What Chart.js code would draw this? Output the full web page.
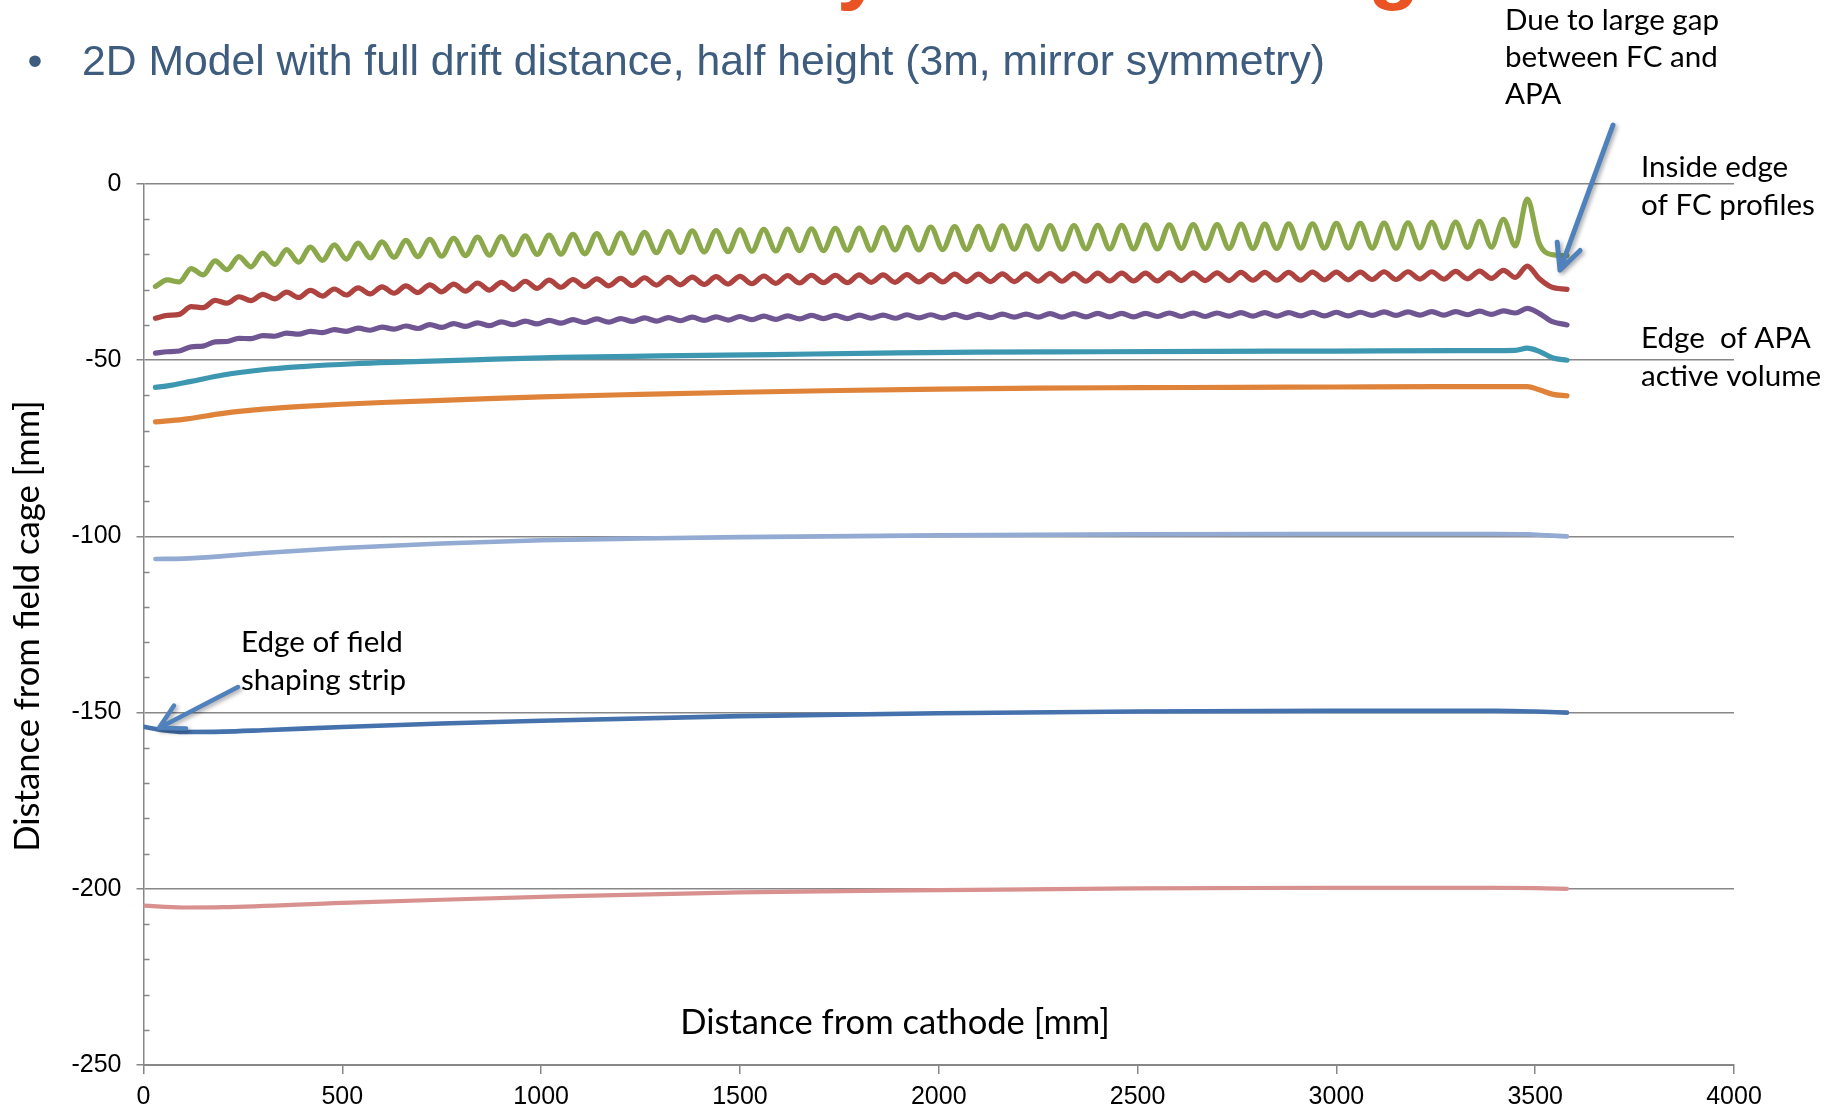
<!DOCTYPE html>
<html>
<head>
<meta charset="utf-8">
<script src="https://cdn.jsdelivr.net/npm/chart.js@4.4.1/dist/chart.umd.min.js"></script>
<style>
  html, body { margin: 0; padding: 0; background: #ffffff; overflow: hidden; }
  #wrap { position: relative; width: 1829px; height: 1109px; }
</style>
</head>
<body>
<div id="wrap"><canvas id="c" width="1829" height="1109"></canvas></div>
<script>
// Sample positions along the drift direction [mm] for the rippled field lines
const waveX = [30,60,90,120,150,180,210,240,270,300,330,360,390,420,450,480,510,540,570,600,
  630,660,690,720,750,780,810,840,870,900,930,960,990,1020,1050,1080,1110,1140,1170,1200,
  1230,1260,1290,1320,1350,1380,1410,1440,1470,1500,1530,1560,1590,1620,1650,1680,1710,1740,1770,1800,
  1830,1860,1890,1920,1950,1980,2010,2040,2070,2100,2130,2160,2190,2220,2250,2280,2310,2340,2370,2400,
  2430,2460,2490,2520,2550,2580,2610,2640,2670,2700,2730,2760,2790,2820,2850,2880,2910,2940,2970,3000,
  3030,3060,3090,3120,3150,3180,3210,3240,3270,3300,3330,3360,3390,3420,3450,3480,3510,3540,3580];

// Field line closest to the field cage profiles (green)
const greenY = [-29.1,-27.2,-27.8,-24.0,-25.8,-21.8,-24.3,-20.6,-23.5,-19.6,-22.8,-18.6,-22.2,-17.9,-21.7,-17.3,-21.3,-16.8,-21.0,-16.4,
  -20.8,-16.0,-20.6,-15.7,-20.5,-15.4,-20.3,-15.1,-20.2,-14.9,-20.1,-14.7,-20.0,-14.5,-19.9,-14.3,-19.8,-14.1,-19.7,-13.9,
  -19.6,-13.7,-19.5,-13.5,-19.4,-13.3,-19.3,-13.2,-19.2,-13.0,-19.1,-12.9,-19.0,-12.8,-18.9,-12.7,-18.9,-12.6,-18.8,-12.5,
  -18.8,-12.4,-18.7,-12.3,-18.7,-12.2,-18.6,-12.1,-18.6,-12.0,-18.6,-11.9,-18.5,-11.9,-18.5,-11.8,-18.5,-11.8,-18.4,-11.7,
  -18.4,-11.7,-18.4,-11.6,-18.4,-11.6,-18.3,-11.5,-18.3,-11.5,-18.3,-11.4,-18.3,-11.4,-18.3,-11.3,-18.2,-11.3,-18.2,-11.2,
  -18.2,-11.2,-18.2,-11.1,-18.2,-11.0,-18.1,-10.9,-18.1,-10.8,-18.0,-10.6,-17.9,-10.0,-17.6,-4.3,-16.8,-20.0,-20.3];

// Second field line (red)
const redY = [-38.1,-37.3,-37.0,-34.8,-35.1,-33.0,-33.8,-32.0,-33.1,-31.3,-32.6,-30.7,-32.2,-30.2,-31.8,-29.8,-31.5,-29.5,-31.2,-29.2,
  -31.0,-28.9,-30.8,-28.6,-30.6,-28.4,-30.4,-28.1,-30.1,-27.9,-29.9,-27.6,-29.6,-27.3,-29.3,-27.1,-29.1,-26.9,-28.9,-26.8,
  -28.8,-26.6,-28.7,-26.5,-28.6,-26.4,-28.5,-26.3,-28.4,-26.2,-28.3,-26.1,-28.2,-26.0,-28.1,-25.9,-28.0,-25.9,-28.0,-25.8,
  -27.9,-25.8,-27.9,-25.7,-27.8,-25.7,-27.8,-25.6,-27.7,-25.6,-27.7,-25.5,-27.7,-25.5,-27.6,-25.4,-27.6,-25.4,-27.6,-25.3,
  -27.5,-25.3,-27.5,-25.3,-27.5,-25.2,-27.4,-25.2,-27.4,-25.2,-27.4,-25.1,-27.3,-25.1,-27.3,-25.1,-27.3,-25.0,-27.2,-25.0,
  -27.2,-25.0,-27.1,-24.9,-27.1,-24.9,-27.0,-24.9,-27.0,-24.8,-26.9,-24.7,-26.8,-24.5,-26.5,-23.3,-26.8,-29.2,-29.9];

// Third field line (purple)
const purpleY = [-48.0,-47.6,-47.4,-46.2,-46.0,-44.8,-44.7,-43.8,-43.9,-43.0,-43.2,-42.3,-42.6,-41.8,-42.2,-41.3,-41.8,-40.9,-41.5,-40.6,
  -41.2,-40.3,-41.0,-39.9,-40.7,-39.6,-40.4,-39.4,-40.2,-39.1,-39.9,-38.9,-39.7,-38.7,-39.5,-38.5,-39.3,-38.3,-39.2,-38.2,
  -39.0,-38.0,-38.9,-37.9,-38.8,-37.8,-38.7,-37.7,-38.6,-37.6,-38.5,-37.5,-38.4,-37.4,-38.3,-37.3,-38.2,-37.3,-38.2,-37.2,
  -38.1,-37.2,-38.1,-37.1,-38.0,-37.1,-38.0,-37.0,-37.9,-37.0,-37.9,-36.9,-37.8,-36.9,-37.8,-36.8,-37.8,-36.8,-37.7,-36.7,
  -37.7,-36.7,-37.7,-36.7,-37.6,-36.6,-37.6,-36.6,-37.6,-36.6,-37.5,-36.5,-37.5,-36.5,-37.5,-36.5,-37.4,-36.4,-37.4,-36.4,
  -37.4,-36.4,-37.3,-36.3,-37.3,-36.3,-37.2,-36.2,-37.2,-36.2,-37.1,-36.1,-37.0,-36.0,-36.6,-35.3,-36.7,-38.9,-40.0];

// Smoother field lines further from the cage
const tealX = [30,60,120,200,300,400,530,660,830,1050,1300,1580,1850,2100,2400,2700,3000,3300,3450,3480,3510,3545,3580];
const tealY = [-57.7,-57.3,-56.0,-54.2,-52.7,-51.8,-51.0,-50.5,-49.9,-49.2,-48.8,-48.4,-48.0,-47.7,-47.6,-47.5,-47.4,-47.3,-47.2,-46.6,-47.5,-49.4,-50.0];

const orangeX = [30,100,200,300,400,500,600,800,1000,1250,1500,1750,2000,2250,2500,2750,3000,3250,3450,3480,3510,3545,3580];
const orangeY = [-67.5,-66.8,-65.1,-63.9,-63.1,-62.5,-62.0,-61.2,-60.4,-59.7,-59.1,-58.6,-58.2,-57.9,-57.8,-57.7,-57.6,-57.5,-57.5,-57.5,-58.4,-59.7,-60.1];

const lightBlueX = [30,100,200,300,500,750,1000,1250,1500,2000,2500,3000,3400,3480,3530,3580];
const lightBlueY = [-106.4,-106.3,-105.6,-104.7,-103.3,-102.0,-101.1,-100.6,-100.2,-99.7,-99.4,-99.3,-99.3,-99.4,-99.7,-100.0];

const blueX = [0,50,100,200,300,500,750,1000,1500,2000,2500,3000,3400,3500,3580];
const blueY = [-154.0,-155.0,-155.5,-155.4,-155.0,-154.1,-153.1,-152.3,-151.0,-150.2,-149.7,-149.5,-149.5,-149.7,-150.0];

const pinkX = [0,100,200,500,750,1000,1500,2000,2500,3000,3400,3500,3580];
const pinkY = [-204.8,-205.3,-205.2,-204.0,-203.1,-202.3,-201.0,-200.4,-199.9,-199.7,-199.7,-199.8,-200.0];

// Axis ranges and tick steps
const xRange = [0, 4000];
const xStep = 500;
const yRange = [-250, 0];
const yStep = 50;
const yMinorStep = 10;

const toPoints = (xs, ys) => xs.map((x, i) => ({ x: x, y: ys[i] }));

function line(label, xs, ys, color, width) {
  return {
    label: label,
    data: toPoints(xs, ys),
    borderColor: color,
    borderWidth: width,
    pointRadius: 0,
    pointHoverRadius: 0,
    fill: false,
    cubicInterpolationMode: 'monotone',
    borderCapStyle: 'round',
    borderJoinStyle: 'round'
  };
}

const datasets = [
  line('green', waveX, greenY, '#8BA94A', 5.2),
  line('red', waveX, redY, '#AE4340', 5.2),
  line('purple', waveX, purpleY, '#6F5592', 5.2),
  line('teal', tealX, tealY, '#3D97B1', 5.2),
  line('orange', orangeX, orangeY, '#E0833A', 5.2),
  line('light blue', lightBlueX, lightBlueY, '#93AAD3', 4.6),
  line('blue', blueX, blueY, '#4571AD', 4.6),
  line('pink', pinkX, pinkY, '#D8918F', 4.2)
];

const SANS = '"Liberation Sans", Arial, sans-serif';
const HUMANIST = 'Lato, "Open Sans", sans-serif';

function fitSize(ctx, text, family, weight, target) {
  ctx.font = weight + ' 100px ' + family;
  return 100 * target / ctx.measureText(text).width;
}

function arrow(ctx, x1, y1, x2, y2, width, head, spread) {
  const ang = Math.atan2(y1 - y2, x1 - x2);
  ctx.save();
  ctx.strokeStyle = '#4F81BD';
  ctx.lineWidth = width;
  ctx.lineCap = 'round';
  ctx.lineJoin = 'round';
  ctx.shadowColor = 'rgba(0,0,0,0.35)';
  ctx.shadowBlur = 4;
  ctx.shadowOffsetX = 2;
  ctx.shadowOffsetY = 2;
  ctx.beginPath();
  ctx.moveTo(x1, y1);
  ctx.lineTo(x2, y2);
  ctx.moveTo(x2 + head * Math.cos(ang + spread), y2 + head * Math.sin(ang + spread));
  ctx.lineTo(x2, y2);
  ctx.lineTo(x2 + head * Math.cos(ang - spread), y2 + head * Math.sin(ang - spread));
  ctx.stroke();
  ctx.restore();
}

const decorations = {
  id: 'decorations',
  afterDraw(chart) {
    const ctx = chart.ctx;
    const area = chart.chartArea;
    const yScale = chart.scales.y;

    // minor ticks on the inside of the value axis
    ctx.save();
    ctx.strokeStyle = '#878787';
    ctx.lineWidth = 1.5;
    for (let v = yRange[0] + yMinorStep; v < yRange[1]; v += yMinorStep) {
      if (v % yStep === 0) continue;
      const py = Math.round(yScale.getPixelForValue(v)) + 0.5;
      ctx.beginPath();
      ctx.moveTo(area.left, py);
      ctx.lineTo(area.left + 6, py);
      ctx.stroke();
    }
    ctx.restore();

    ctx.save();
    // slide heading running off the top edge
    const head = 'Field Uniformity near the Edge';
    ctx.font = 'bold 100px ' + SANS;
    const w1 = ctx.measureText('Field Uniformit').width;
    const w2 = ctx.measureText('Field Uniformity near the Ed').width;
    const hs = 542 * 100 / (w2 - w1 + 13);
    const hx = 850 - (w1 / 100 + 0.16) * hs;
    ctx.font = 'bold ' + hs.toFixed(1) + 'px ' + SANS;
    ctx.fillStyle = '#EA5424';
    ctx.textAlign = 'left';
    ctx.textBaseline = 'alphabetic';
    ctx.fillText(head, hx, 11 - 0.21 * hs);

    // bullet line
    const sub = '2D Model with full drift distance, half height (3m, mirror symmetry)';
    const ss = fitSize(ctx, sub, SANS, 'normal', 1242);
    ctx.font = ss.toFixed(1) + 'px ' + SANS;
    ctx.fillStyle = '#3E5C7E';
    ctx.textBaseline = 'middle';
    ctx.fillText(sub, 82, 63);
    ctx.textAlign = 'center';
    ctx.fillText('\u2022', 35, 63);

    // callout texts
    const as = fitSize(ctx, 'active volume', HUMANIST, 'normal', 180);
    ctx.font = as.toFixed(1) + 'px ' + HUMANIST;
    ctx.fillStyle = '#000000';
    ctx.textAlign = 'left';
    const notes = [
      ['Due to large gap', 1505, 20],
      ['between FC and', 1505, 57],
      ['APA', 1505, 94],
      ['Inside edge', 1641, 167],
      ['of FC profiles', 1641, 205],
      ['Edge  of APA', 1641, 338],
      ['active volume', 1641, 376],
      ['Edge of field', 241, 642],
      ['shaping strip', 241, 680]
    ];
    notes.forEach(n => ctx.fillText(n[0], n[1], n[2]));

    // axis titles
    const xt = 'Distance from cathode [mm]';
    const xs = fitSize(ctx, xt, HUMANIST, 'normal', 430);
    ctx.font = xs.toFixed(1) + 'px ' + HUMANIST;
    ctx.textAlign = 'center';
    ctx.fillText(xt, 895, 1023);

    const yt = 'Distance from field cage [mm]';
    const ys = fitSize(ctx, yt, HUMANIST, 'normal', 452);
    ctx.font = ys.toFixed(1) + 'px ' + HUMANIST;
    ctx.translate(28, 626);
    ctx.rotate(-Math.PI / 2);
    ctx.fillText(yt, 0, 0);
    ctx.restore();

    // callout arrows
    arrow(ctx, 1613, 125, 1560, 270, 5, 28, 0.45);
    arrow(ctx, 238, 687, 159, 728, 4.5, 27, 0.5);
  }
};

const tickFont = { family: SANS, size: 25 };
const plainNumber = v => String(v);

new Chart(document.getElementById('c').getContext('2d'), {
  type: 'line',
  data: { datasets: datasets },
  options: {
    responsive: false,
    animation: false,
    devicePixelRatio: 1,
    events: [],
    layout: { padding: { left: 0, right: 95, top: 184, bottom: 0 } },
    plugins: { legend: { display: false }, tooltip: { enabled: false } },
    scales: {
      x: {
        type: 'linear',
        min: xRange[0],
        max: xRange[1],
        afterFit(scale) { scale.height = 44; },
        ticks: { stepSize: xStep, font: tickFont, color: '#000000', padding: 8, maxRotation: 0, autoSkip: false, callback: plainNumber },
        grid: { drawOnChartArea: false, drawTicks: true, tickLength: 9, color: '#878787', lineWidth: 1.5 },
        border: { display: true, color: '#878787', width: 2 }
      },
      y: {
        type: 'linear',
        min: yRange[0],
        max: yRange[1],
        afterFit(scale) { scale.width = 143.5; },
        ticks: { stepSize: yStep, font: tickFont, color: '#000000', padding: 15, callback: plainNumber },
        grid: { drawTicks: true, tickLength: 7, color: '#878787', lineWidth: 1.5 },
        border: { display: true, color: '#878787', width: 1.5 }
      }
    }
  },
  plugins: [decorations]
});
</script>
</body>
</html>
